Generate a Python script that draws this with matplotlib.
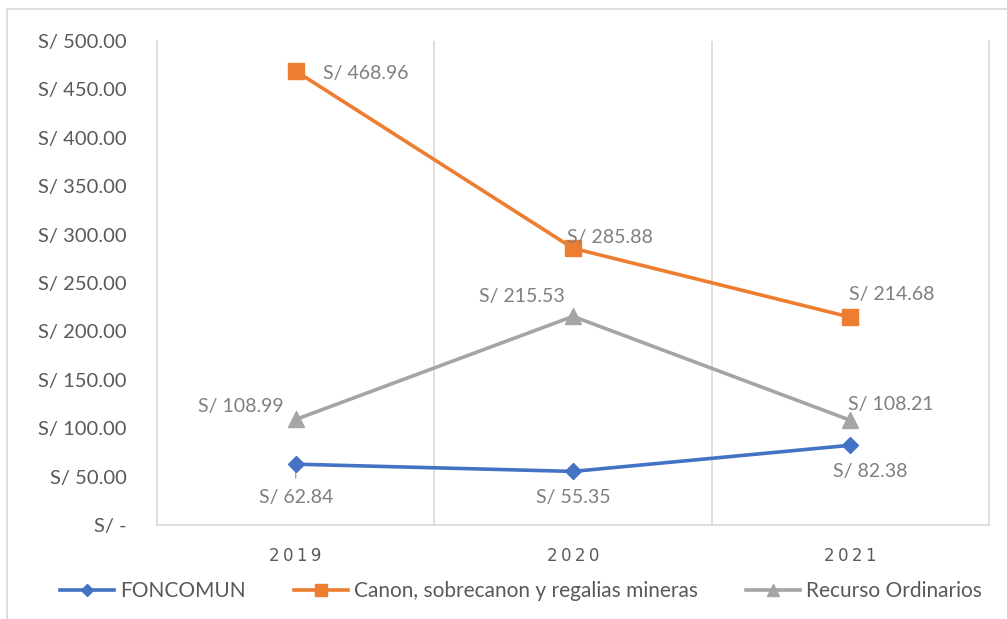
import matplotlib
matplotlib.use("Agg")
import matplotlib.pyplot as plt
from matplotlib.patches import Rectangle
from matplotlib.ticker import FixedLocator

plt.rcParams['font.family'] = ['Lato', 'DejaVu Sans']

years = ["2019", "2020", "2021"]
foncomun = [62.84, 55.35, 82.38]
canon = [468.96, 285.88, 214.68]
recurso = [108.99, 215.53, 108.21]
yticks = [0, 50, 100, 150, 200, 250, 300, 350, 400, 450, 500]
ytick_labels = ["S/ -"] + ["S/ %.2f" % v for v in yticks[1:]]

names = ["FONCOMUN", "Canon, sobrecanon y regalias mineras", "Recurso Ordinarios"]
colors = ["#4472C4", "#ED7D31", "#A5A5A5"]
markers = ["D", "s", "^"]
msizes = [8, 11, 11]

# label offsets (points) and alignment per point
label_pos = {
    0: [((0, -24), "center"), ((0, -19), "center"), ((14, -19), "center")],
    1: [((20, -2), "left"), ((-4, 8), "left"), ((-1, 16), "left")],
    2: [((-9, 9), "right"), ((-6, 14), "right"), ((-2, 11), "left")],
}

fig = plt.figure(figsize=(10.07, 6.19), dpi=100)
fig.patches.append(Rectangle((7 / 1007, -0.05), 1.1, 1 - 9 / 619 + 0.05,
                             transform=fig.transFigure, fill=False,
                             edgecolor="#d9d9d9", linewidth=1.2))
ax = fig.add_axes([157 / 1007, 1 - 525 / 619, (989 - 157) / 1007, (525 - 41) / 619])

x = list(range(len(years)))
series = [foncomun, canon, recurso]
handles = []
for i, vals in enumerate(series):
    h, = ax.plot(x, vals, color=colors[i], linewidth=2.6, marker=markers[i],
                 markersize=msizes[i], label=names[i], zorder=3)
    handles.append(h)
    for j, v in enumerate(vals):
        off, ha = label_pos[i][j]
        ax.annotate("S/ %.2f" % v, (x[j], v), xytext=off, textcoords="offset points",
                    ha=ha, va="center", fontsize=14, color="#7f7f7f", zorder=4)

# leader line for FONCOMUN 2019
ax.annotate("", (x[0], foncomun[0]), xytext=(0, -12), textcoords="offset points",
            arrowprops=dict(arrowstyle="-", color="#a6a6a6", lw=1), zorder=2)

ax.set_xlim(-0.5, 2.5)
ax.set_ylim(0, 500)
ax.set_yticks(yticks)
ax.set_yticklabels(ytick_labels)
ax.set_xticks(x)
ax.set_xticklabels(["\u2009".join(y) for y in years], family="DejaVu Sans",
                   fontsize=12, color="#595959")
ax.xaxis.set_minor_locator(FixedLocator([0.5, 1.5]))
ax.grid(which="minor", axis="x", color="#d9d9d9", linewidth=1.2)
ax.tick_params(axis="y", length=0, pad=22, labelsize=14.5, labelcolor="#595959")
ax.tick_params(axis="x", which="both", length=0, pad=16)
for s in ["left", "right", "bottom"]:
    ax.spines[s].set_color("#d9d9d9")
    ax.spines[s].set_linewidth(1.2)
ax.spines["top"].set_visible(False)

leg = fig.legend(handles=handles, loc="center", bbox_to_anchor=(521 / 1007, 1 - 591 / 619),
                 ncol=3, frameon=False, fontsize=15, handlelength=2.6, columnspacing=2.3,
                 labelcolor="#595959", handletextpad=0.3, markerscale=0.8)

fig.savefig("out.png", dpi=100)
